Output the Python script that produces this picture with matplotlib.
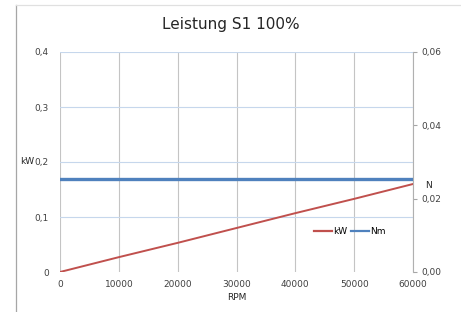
import matplotlib.pyplot as plt
from matplotlib.lines import Line2D

# ---------- data ----------
rpm = [0, 10000, 20000, 30000, 40000, 50000, 60000]
kw = [0.0, 0.027, 0.053, 0.080, 0.107, 0.133, 0.160]
nm = [0.0254, 0.0254, 0.0254, 0.0254, 0.0254, 0.0254, 0.0254]

kw_ticks = [0, 0.1, 0.2, 0.3, 0.4]
kw_labels = ["0", "0,1", "0,2", "0,3", "0,4"]
nm_ticks = [0, 0.02, 0.04, 0.06]
nm_labels = ["0,00", "0,02", "0,04", "0,06"]
rpm_ticks = [0, 10000, 20000, 30000, 40000, 50000, 60000]
# --------------------------

plt.rcParams['font.family'] = ['DejaVu Sans']
RED = "#C0504D"
BLUE = "#4F81BD"
W, H = 461, 312

fig = plt.figure(figsize=(W / 100, H / 100), dpi=100)
ax = fig.add_axes([60 / W, 40 / H, 353 / W, 220 / H])
ax2 = ax.twinx()

# kW on primary axis
ax.plot(rpm, kw, color=RED, lw=1.4, label="kW", zorder=3)
ax.set_xlim(0, 60000)
ax.set_ylim(0, 0.4)
ax.set_xticks(rpm_ticks)
ax.set_xticklabels([str(t) for t in rpm_ticks])
ax.set_yticks(kw_ticks)
ax.set_yticklabels(kw_labels)
ax.tick_params(axis="both", length=0, labelsize=6.5, colors="#404040")
ax.tick_params(axis="y", pad=8)
ax.tick_params(axis="x", pad=6)

for t in rpm_ticks:
    ax.axvline(t, color="#c4c4c4", lw=0.8, zorder=1)
for t in kw_ticks[1:]:
    ax.axhline(t, color="#c6d7ec", lw=0.8, zorder=1)
for s in ax.spines.values():
    s.set_visible(False)

# Nm on secondary axis
ax2.plot(rpm, nm, color=BLUE, lw=2.4, label="Nm", zorder=3)
ax2.set_ylim(0, 0.06)
ax2.set_yticks(nm_ticks)
ax2.set_yticklabels(nm_labels)
ax2.tick_params(axis="y", length=3, color="#a6a6a6", labelsize=6.5,
                labelcolor="#404040", pad=3)
for k, s in ax2.spines.items():
    s.set_visible(k == "right")
ax2.spines["right"].set_color("#b0b0b0")
ax2.spines["right"].set_linewidth(0.8)

# titles and labels
fig.text(230.5 / W, 1 - 25 / H, "Leistung S1 100%", ha="center", va="center",
         fontsize=11, color="#262626")
fig.text(236.5 / W, 1 - 297 / H, "RPM", ha="center", va="center",
         fontsize=6.5, color="#262626")
fig.text(34 / W, 1 - 161 / H, "kW", ha="right", va="center",
         fontsize=6.5, color="#262626")
fig.text(428 / W, 1 - 185 / H, "N", ha="center", va="center",
         fontsize=6.5, color="#262626")

# legend
handles = [Line2D([], [], color=RED, lw=1.6), Line2D([], [], color=BLUE, lw=1.6)]
fig.legend(handles, ["kW", "Nm"], ncol=2, frameon=False, fontsize=6.5,
           loc="center", bbox_to_anchor=(350 / W, 1 - 232 / H),
           handlelength=2.0, handletextpad=0.1, columnspacing=0.4)

# chart frame
fig.add_artist(Line2D([16 / W, 16 / W], [0, 1 - 5 / H], color="#a6a6a6", lw=0.9))
fig.add_artist(Line2D([16 / W, 1], [1 - 5 / H, 1 - 5 / H], color="#e0e0e0", lw=0.9))

fig.savefig("out.png", dpi=100)
